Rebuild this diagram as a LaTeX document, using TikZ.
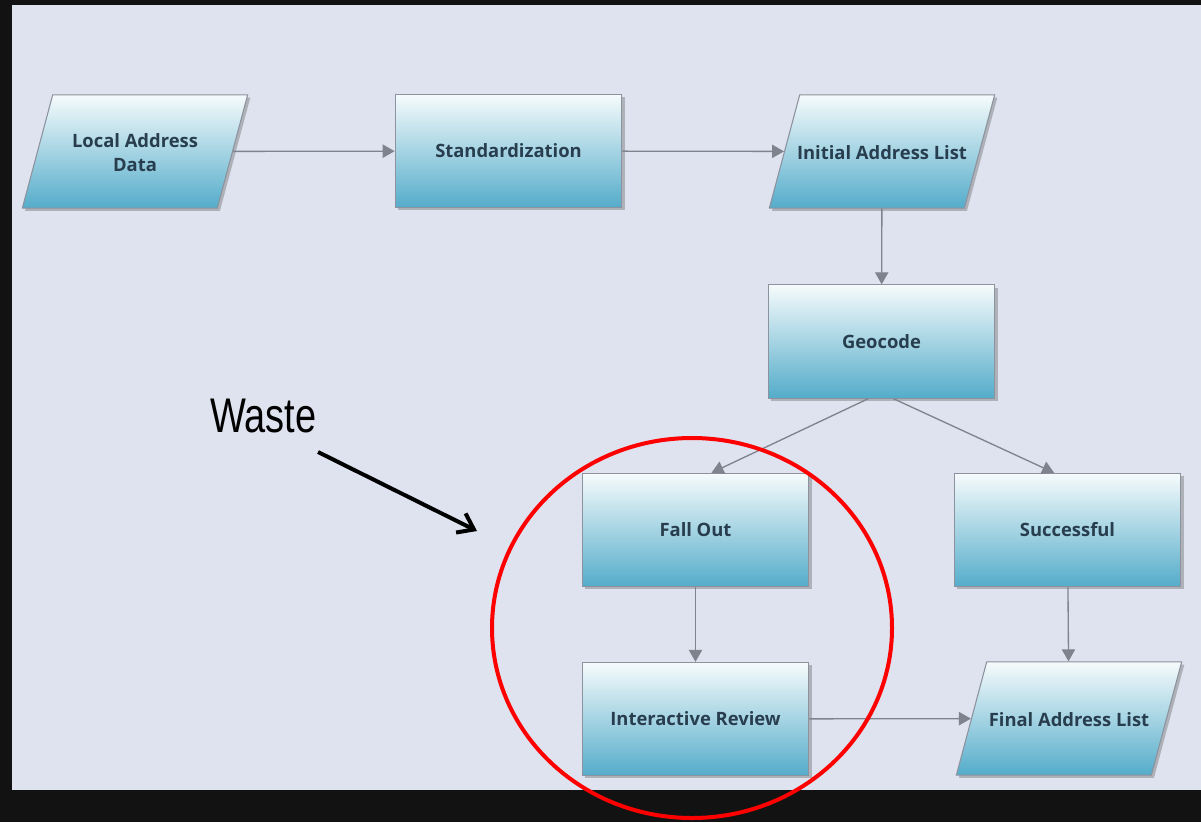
\documentclass[tikz,border=0pt]{standalone}
\usepackage{fontspec}
\setmainfont{Open Sans}
\newfontfamily\wastefont[FakeStretch=0.78]{Liberation Sans}
\usetikzlibrary{arrows.meta,shapes.geometric,shadows}

\definecolor{panelbg}{RGB}{222,227,239}
\definecolor{boxtop}{RGB}{246,251,252}
\definecolor{boxmid}{RGB}{175,221,232}
\definecolor{boxbot}{RGB}{84,172,202}
\definecolor{boxline}{RGB}{140,146,158}
\definecolor{boxtext}{RGB}{40,62,78}
\definecolor{flowline}{RGB}{126,131,142}

\tikzset{
  flowbox/.style={draw=boxline, line width=0.8pt, top color=boxtop, middle color=boxmid, bottom color=boxbot,
    drop shadow={shadow xshift=2pt, shadow yshift=-2pt, opacity=0.5, fill=gray},
    text=boxtext, font=\fontsize{13.8}{18}\selectfont\bfseries, align=center},
  procbox/.style={flowbox, rectangle, minimum width=170pt, minimum height=85pt},
  databox/.style={flowbox, trapezium, trapezium left angle=75, trapezium right angle=105,
    trapezium stretches body=true, minimum width=169pt, inner xsep=-5pt,
    text height=12.5pt, text depth=0.5pt, inner ysep=36pt},
  flow/.style={draw=flowline, line width=1pt, -{Triangle[length=9pt,width=10pt]}},
}

\begin{document}
\begin{tikzpicture}[x=0.75pt,y=-0.75pt]
\useasboundingbox (0,0) rectangle (1201,822);
% frame and panel
\fill [black!93] (0,0) rectangle (1201,822);
\fill [panelbg] (12,5) rectangle (1201,790);

% Boxes
\node [databox, text height=30.5pt, text depth=0.5pt, inner ysep=27pt] (local) at (135,151.5) {Local Address\\Data};
\node [procbox] (stand) at (508.5,151) {Standardization};
\node [databox] (init) at (882,151.5) {Initial Address List};
\node [procbox] (geo) at (881.5,341.5) {Geocode};
\node [procbox] (fall) at (695.5,530) {Fall Out};
\node [procbox] (succ) at (1067.5,530) {Successful};
\node [procbox] (inter) at (695.5,719) {Interactive Review};
\node [databox] (final) at (1069,718.5) {Final Address List};

% Connectors
\draw [flow] (local) -- (stand);
\draw [flow] (stand) -- (init);
\draw [flow] (init) -- (geo);
\draw [flow] ([xshift=-10pt]geo.south) -- ([xshift=12pt]fall.north);
\draw [flow] ([xshift=9pt]geo.south) -- ([xshift=-10pt]succ.north);
\draw [flow] (fall) -- (inter);
\draw [flow] (succ) -- (final);
\draw [flow] (inter) -- (final);

% Waste label
\node [anchor=base, inner sep=0pt, font=\wastefont\fontsize{36.5}{40}\selectfont] (waste) at (263.5,432) {Waste};
\coordinate (wastefrom) at (318,452);
\coordinate (wasteto) at (477,531);
\draw [line width=3pt, -{Straight Barb[length=11pt,width=16pt,line width=3pt]}] (wastefrom) -- (wasteto);

% Red ring
\draw [red, line width=3pt] (692,628) ellipse [x radius=150pt, y radius=142.5pt];
\end{tikzpicture}
\end{document}
